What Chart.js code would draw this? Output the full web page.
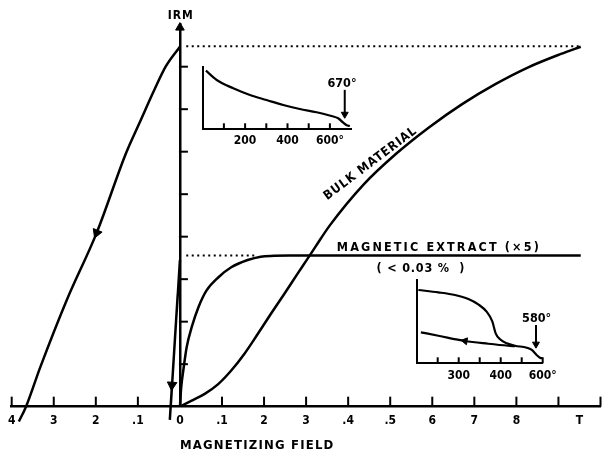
<!DOCTYPE html>
<html><head><meta charset="utf-8">
<script src="https://cdn.jsdelivr.net/npm/chart.js@4.4.0/dist/chart.umd.min.js"></script>
<style>
html,body{margin:0;padding:0;background:#fff;}
#wrap{position:relative;width:607px;height:455px;overflow:hidden;background:#fff;}
canvas{position:absolute;}
</style></head><body>
<div id="wrap">
<canvas id="main" width="607" height="455" style="left:0;top:0"></canvas>
<canvas id="ins1" width="185" height="100" style="left:190px;top:55px"></canvas>
<canvas id="ins2" width="170" height="125" style="left:400px;top:268px"></canvas>
</div>
<script>
// ===== data =====
// main axis: magnetizing field (T), IRM (arbitrary units)
const xTickValues = [-0.4,-0.3,-0.2,-0.1,0,0.1,0.2,0.3,0.4,0.5,0.6,0.7,0.8,0.9,0.95,1.0];
const xTickLabels = ['4','3','2','.1','0','.1','2','3','.4','.5','6','7','8','','T',''];
const xTickMarks  = [-0.4,-0.3,-0.2,-0.1,0.1,0.2,0.3,0.4,0.5,0.6,0.7,0.8,0.9,1.0];
const yTickMarks  = [1,2,3,4,5,6,7,8];

// bulk material IRM acquisition
const bulkAcqX = [0,0.028,0.059,0.091,0.122,0.153,0.185,0.216,0.248,0.279,0.302,0.322,0.356,0.436,0.514,0.592,0.671,0.750,0.827,0.906,0.953];
const bulkAcqY = [0,0.14,0.30,0.53,0.85,1.24,1.71,2.18,2.65,3.12,3.46,3.76,4.26,5.22,5.95,6.57,7.12,7.59,7.98,8.30,8.47];
// bulk material back-field demagnetization
const bulkBackX = [0,-0.034,-0.061,-0.096,-0.128,-0.198,-0.269,-0.332,-0.366,-0.383];
const bulkBackY = [8.47,8.0,7.45,6.68,5.97,4.09,2.51,0.93,0,-0.35];
// magnetic extract (x5) IRM acquisition
const extractAcqX = [0,0.003,0.008,0.016,0.028,0.044,0.063,0.091,0.122,0.161,0.192,0.224,0.26,0.953];
const extractAcqY = [0,0.45,0.85,1.40,1.87,2.34,2.73,3.04,3.28,3.45,3.53,3.55,3.56,3.56];
// magnetic extract back-field
const extractBackX = [0,-0.024];
const extractBackY = [3.45,-0.31];
// saturation levels (dotted)
const bulkSatX = [0.015,0.953];   const bulkSatY = [8.48,8.48];
const extractSatX = [0.015,0.18]; const extractSatY = [3.56,3.56];
// arrow heads on curves
const arrowX = [-0.198,-0.019];
const arrowY = [4.09,0.51];

// inset 1: thermal demagnetization of bulk IRM
const ins1T = [15,66,144,223,301,380,458,537,608,639,663,679,694];
const ins1Y = [0.936,0.788,0.655,0.548,0.468,0.388,0.324,0.272,0.212,0.176,0.105,0.064,0.053];
const ins1TickValues = [100,200,300,400,500,600];
const ins1TickLabels = ['','200','','400','','600°'];
const ins1Curie = 670;

// inset 2: thermal demagnetization of extract IRM (heating and cooling)
const ins2HeatT = [8,103,182,246,293,333,360,376,397,429,468,524,548,571,587,603];
const ins2HeatY = [0.88,0.852,0.82,0.772,0.708,0.62,0.504,0.36,0.288,0.24,0.211,0.187,0.16,0.10,0.067,0.06];
const ins2CoolT = [20,103,230,341,436,468];
const ins2CoolY = [0.372,0.331,0.268,0.235,0.211,0.205];
const ins2TickValues = [100,200,300,400,500,600];
const ins2TickLabels = ['','300','','400','','600°'];
const ins2Curie = 568;

// ===== helpers =====
const FONT = "'DejaVu Sans Condensed', 'DejaVu Sans', sans-serif";
const zip = (xs, ys) => xs.map((x, i) => ({x, y: ys[i]}));
const line = (data, extra) => Object.assign({type:'line', data, borderColor:'#000', borderWidth:2.5,
  pointRadius:0, fill:false, cubicInterpolationMode:'monotone'}, extra || {});

const decor = {
  id: 'decor',
  afterDraw(chart, args, o) {
    const ctx = chart.ctx, xs = chart.scales.x, ys = chart.scales.y, ca = chart.chartArea;
    ctx.save();
    ctx.strokeStyle = '#000'; ctx.fillStyle = '#000'; ctx.lineWidth = o.tickWidth || 2;
    (o.xTicks || []).forEach(v => {
      const px = xs.getPixelForValue(v);
      ctx.beginPath(); ctx.moveTo(px, ca.bottom); ctx.lineTo(px, ca.bottom - o.xTickLen); ctx.stroke();
    });
    if (o.yTicks) {
      const x0 = xs.getPixelForValue(0);
      o.yTicks.forEach(v => {
        const py = ys.getPixelForValue(v);
        ctx.beginPath(); ctx.moveTo(x0 - 1, py); ctx.lineTo(x0 + o.yTickLen, py); ctx.stroke();
      });
    }
    (o.texts || []).forEach(t => {
      ctx.save();
      ctx.font = 'bold ' + t.size + 'px ' + FONT;
      ctx.textAlign = t.align || 'center';
      ctx.textBaseline = 'alphabetic';
      if ('letterSpacing' in ctx) ctx.letterSpacing = (t.spacing || 0) + 'px';
      ctx.translate(xs.getPixelForValue(t.x), ys.getPixelForValue(t.y));
      if (t.rotate) ctx.rotate(t.rotate * Math.PI / 180);
      ctx.fillText(t.text, 0, 0);
      ctx.restore();
    });
    ctx.restore();
  }
};

const baseTicks = (values, labels, size, lh) => ({
  afterBuildTicks: s => { s.ticks = values.map(v => ({value: v})); },
  ticks: {autoSkip:false, maxRotation:0, minRotation:0, padding:0, color:'#000',
    font:{family:FONT, size:size, weight:'bold', lineHeight:lh}, callback:(v, i) => labels[i]},
  grid: {display:false, drawTicks:false},
});

// ===== main chart =====
new Chart(document.getElementById('main'), {
  data: {datasets: [
    line(zip(bulkAcqX, bulkAcqY)),
    line(zip(bulkBackX, bulkBackY), {clip:false}),
    line(zip(extractAcqX, extractAcqY)),
    line(zip(extractBackX, extractBackY), {clip:false, cubicInterpolationMode:'default', tension:0}),
    line(zip(bulkSatX, bulkSatY), {borderWidth:2, borderDash:[2,3.5], tension:0}),
    line(zip(extractSatX, extractSatY), {borderWidth:2, borderDash:[2,3.5], tension:0}),
    {type:'scatter', data: zip(arrowX, arrowY), pointStyle:'triangle', pointRadius:5.5,
     rotation:[202,184], backgroundColor:'#000', borderColor:'#000', borderWidth:1, clip:false},
    {type:'scatter', data: [{x:0, y:8.92}], pointStyle:'triangle', pointRadius:5,
     rotation:0, backgroundColor:'#000', borderColor:'#000', borderWidth:1, clip:false}
  ]},
  options: {
    responsive:false, animation:false, events:[],
    layout:{padding:{left:11.7, right:0.5, top:24.2, bottom:19.9}},
    plugins:{legend:{display:false}, tooltip:{enabled:false},
      decor:{xTicks:xTickMarks, xTickLen:10, yTicks:yTickMarks, yTickLen:8, tickWidth:2,
        texts:[
          {text:'IRM', x:0.002, y:9.13, size:12, spacing:1},
          {text:'MAGNETIC EXTRACT (×5)', x:0.373, y:3.67, size:12.5, spacing:2.15, align:'left'},
          {text:'( < 0.03 %  )', x:0.573, y:3.18, size:12.5, spacing:0.8},
          {text:'BULK MATERIAL', x:0.458, y:5.66, size:12.5, spacing:1, rotate:-37},
          {text:'MAGNETIZING FIELD', x:0.0, y:-1.0, size:13, spacing:1.2, align:'left'}
        ]}},
    scales:{
      x: Object.assign({type:'linear', min:-0.4, max:1.0, position:'bottom',
        border:{display:true, color:'#000', width:2.5}}, baseTicks(xTickValues, xTickLabels, 12, 2.37)),
      y: {type:'linear', min:0, max:9, position:{x:0}, ticks:{display:false},
        grid:{display:false, drawTicks:false}, border:{display:true, color:'#000', width:2.5}}
    }
  },
  plugins:[decor]
});

// ===== inset charts =====
function inset(id, xmax, pad, lh, datasets, tickValues, tickLabels, texts) {
  new Chart(document.getElementById(id), {
    data:{datasets},
    options:{
      responsive:false, animation:false, events:[],
      layout:{padding:pad},
      plugins:{legend:{display:false}, tooltip:{enabled:false},
        decor:{xTicks:tickValues, xTickLen:6, tickWidth:2, texts}},
      scales:{
        x: Object.assign({type:'linear', min:0, max:xmax, position:'bottom',
          border:{display:true, color:'#000', width:2}}, baseTicks(tickValues, tickLabels, 12, lh)),
        y: {type:'linear', min:0, max:1, position:'left', ticks:{display:false},
          grid:{display:false, drawTicks:false}, border:{display:true, color:'#000', width:2}}
      }
    },
    plugins:[decor]
  });
}

inset('ins1', 700, {left:12.7, right:23.9, top:11.7, bottom:1.7}, 2.0, [
  line(zip(ins1T, ins1Y), {borderWidth:2.2}),
  line([{x:ins1Curie, y:0.63},{x:ins1Curie, y:0.24}], {borderWidth:2, tension:0, clip:false}),
  {type:'scatter', data:[{x:ins1Curie, y:0.24}], pointStyle:'triangle', pointRadius:4, rotation:180,
   backgroundColor:'#000', borderColor:'#000', borderWidth:1, clip:false}
], ins1TickValues, ins1TickLabels, [
  {text:'670°', x:657, y:0.67, size:12.5, spacing:0}
]);

inset('ins2', 600, {left:16.7, right:27.3, top:12, bottom:4.7}, 25/12, [
  line(zip(ins2HeatT, ins2HeatY), {borderWidth:2.2}),
  line(zip(ins2CoolT, ins2CoolY), {borderWidth:2.2}),
  line([{x:ins2Curie, y:0.46},{x:ins2Curie, y:0.23}], {borderWidth:2, tension:0, clip:false}),
  {type:'scatter', data:[{x:ins2Curie, y:0.23},{x:230, y:0.268}], pointStyle:'triangle', pointRadius:4,
   rotation:[180,279], backgroundColor:'#000', borderColor:'#000', borderWidth:1, clip:false}
], ins2TickValues, ins2TickLabels, [
  {text:'580°', x:571, y:0.496, size:12.5, spacing:0}
]);
</script>
</body></html>
